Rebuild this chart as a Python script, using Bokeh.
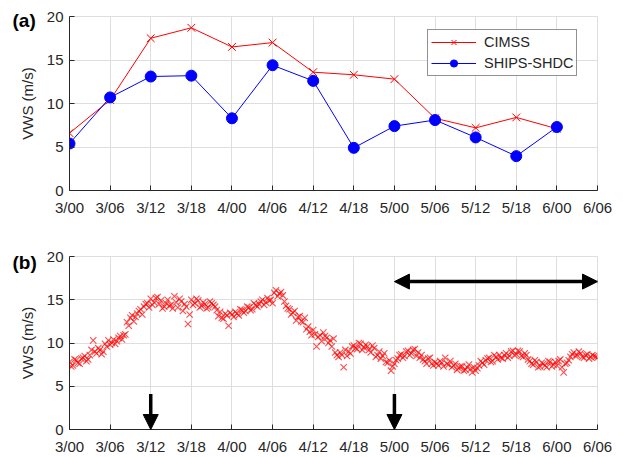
from bokeh.plotting import figure
from bokeh.models import Range1d, FixedTicker, Arrow, NormalHead, Legend, LegendItem
from bokeh.layouts import column
from bokeh.embed import file_html
from bokeh.resources import INLINE

# ---------------- data ----------------
tick_hours = [0, 6, 12, 18, 24, 30, 36, 42, 48, 54, 60, 66, 72, 78]
tick_labels = ["3/00", "3/06", "3/12", "3/18", "4/00", "4/06", "4/12",
               "4/18", "5/00", "5/06", "5/12", "5/18", "6/00", "6/06"]
y_ticks = [0, 5, 10, 15, 20]

a_hours = [0, 6, 12, 18, 24, 30, 36, 42, 48, 54, 60, 66, 72]
cimss = [6.6, 10.4, 17.5, 18.7, 16.5, 17.0, 13.6, 13.3, 12.8, 8.3, 7.2, 8.4, 7.1]
ships = [5.4, 10.7, 13.1, 13.2, 8.3, 14.4, 12.6, 4.9, 7.4, 8.1, 6.1, 3.95, 7.3]

# half-hourly CIMSS VWS (on the hour and half hour)
b_vws = [
    7.8, 7.4, 8.0, 7.6, 8.3, 7.9, 8.6, 10.3,
    8.8, 9.2, 9.0, 9.6, 9.8, 10.4, 10.2, 10.8,
    10.9, 12.4, 12.9, 12.5, 13.4, 13.9, 14.2, 14.6,
    15.1, 14.7, 15.3, 14.9, 14.2, 15.0, 14.4, 15.4,
    14.1, 14.8, 14.5, 12.2, 15.0, 14.6, 14.9, 14.3,
    14.5, 14.1, 14.6, 14.2, 13.1, 12.9, 13.4, 12.0,
    13.3, 13.6, 13.2, 13.8, 13.7, 14.1, 13.9, 14.4,
    14.5, 15.0, 14.7, 14.9, 14.6, 16.1, 15.7, 15.5,
    14.3, 13.9, 13.5, 12.6, 13.1, 12.4, 11.6, 11.3,
    11.5, 9.6, 10.9, 11.2, 10.6, 10.3, 10.5, 8.6,
    8.9, 7.2, 8.5, 8.8, 9.7, 9.3, 9.9, 9.5,
    9.6, 8.9, 9.4, 8.6, 8.2, 8.8, 7.7, 6.8,
    7.6, 8.2, 8.7, 8.5, 9.1, 8.8, 9.3, 8.9,
    8.6, 7.9, 8.2, 7.6, 7.8, 7.4, 7.7, 8.3,
    7.5, 7.2, 7.6, 7.1, 7.3, 6.9, 7.5, 6.6,
    6.8, 7.4, 7.7, 8.0, 8.3, 7.9, 8.4, 8.6,
    8.2, 8.8, 8.5, 9.1, 8.7, 9.0, 8.4, 8.6,
    7.9, 7.5, 7.8, 7.3, 7.6, 7.2, 7.8, 7.5,
    7.4, 8.1, 6.6, 7.7, 8.4, 8.9, 8.6, 8.8,
    8.3, 8.7, 8.4, 8.5, 8.3,
]
# quarter-past / quarter-to values
b_vws_q = [
    7.3, 8.1, 7.7, 8.2, 8.5, 8.1, 9.2, 9.0,
    9.4, 8.7, 9.9, 10.3, 10.0, 9.9, 10.6, 10.4,
    11.0, 12.0, 13.2, 13.0, 13.7, 13.3, 14.5, 14.1,
    14.4, 15.2, 14.5, 14.0, 14.6, 14.3, 14.0, 14.7,
    15.1, 13.7, 14.2, 13.3, 14.4, 15.1, 14.1, 14.7,
    14.0, 14.8, 14.4, 13.8, 13.6, 12.8, 13.2, 13.5,
    13.0, 13.4, 13.9, 13.5, 14.2, 13.8, 14.6, 14.2,
    14.8, 14.4, 15.2, 15.0, 15.8, 15.4, 15.9, 14.8,
    14.0, 13.3, 13.7, 13.0, 12.5, 12.9, 11.9, 10.9,
    11.0, 10.7, 10.2, 10.8, 10.0, 9.6, 8.9, 8.4,
    8.6, 9.2, 9.0, 9.6, 9.4, 10.0, 9.2, 9.8,
    9.2, 9.7, 8.4, 9.0, 8.5, 7.8, 8.0, 7.3,
    8.0, 8.6, 8.3, 9.0, 8.6, 9.2, 8.5, 8.3,
    8.1, 7.6, 8.3, 7.4, 7.6, 7.9, 7.3, 7.6,
    7.9, 7.4, 6.9, 7.3, 6.8, 7.2, 7.0, 7.2,
    7.1, 7.9, 7.5, 8.2, 7.8, 8.6, 8.1, 8.3,
    8.6, 8.3, 9.0, 8.6, 9.1, 8.5, 8.8, 8.1,
    7.6, 8.0, 7.2, 7.7, 7.4, 7.9, 7.3, 7.8,
    7.9, 7.2, 7.6, 8.0, 8.7, 8.5, 9.0, 8.4,
    8.6, 8.2, 8.6, 8.4,
]
b_hours = [0.5 * i for i in range(len(b_vws))]
b_hours_q = [0.25 + 0.5 * i for i in range(len(b_vws_q))]

down_arrow_hours = [12, 48]
down_arrow_top = 4.1
span_start, span_end, span_level = 48, 78, 17.1

FONT = "Liberation Sans"
DARK = "#262626"
GRID = "#dedede"


def make_fig(height, top, bottom, tag, tag_standoff):
    p = figure(width=623, height=height, output_backend="svg", toolbar_location=None,
               x_range=Range1d(0, 78), y_range=Range1d(0, 20),
               min_border_left=69, min_border_right=26,
               min_border_top=top, min_border_bottom=bottom)
    p.xaxis.ticker = FixedTicker(ticks=tick_hours)
    p.yaxis.ticker = FixedTicker(ticks=y_ticks)
    p.xgrid.ticker = FixedTicker(ticks=tick_hours)
    p.ygrid.ticker = FixedTicker(ticks=y_ticks)
    p.xaxis.major_label_overrides = {h: l for h, l in zip(tick_hours, tick_labels)}
    for ax in (p.xaxis, p.yaxis):
        ax.major_tick_in = 5
        ax.major_tick_out = 0
        ax.minor_tick_in = 0
        ax.minor_tick_out = 0
        ax.axis_line_color = DARK
        ax.major_tick_line_color = DARK
        ax.major_label_text_font = FONT
        ax.major_label_text_font_size = "15px"
        ax.major_label_text_color = DARK
    p.xaxis.major_label_standoff = 8
    p.yaxis.major_label_standoff = 6
    p.yaxis.axis_label = "VWS (m/s)"
    p.yaxis.axis_label_text_font = FONT
    p.yaxis.axis_label_text_font_size = "15px"
    p.yaxis.axis_label_text_font_style = "normal"
    p.yaxis.axis_label_text_color = DARK
    p.yaxis.axis_label_standoff = 8
    p.grid.grid_line_color = GRID
    p.grid.grid_line_width = 1
    p.outline_line_color = GRID
    p.background_fill_color = "white"
    p.border_fill_color = "white"
    # panel tag "(a)" / "(b)" as the figure title, pulled down beside the top tick
    p.title.text = tag
    p.title.align = "left"
    p.title.offset = -57
    p.title.standoff = tag_standoff
    p.title.vertical_align = "bottom"
    p.title.text_font = FONT
    p.title.text_font_size = "19px"
    p.title.text_font_style = "bold"
    p.title.text_color = "black"
    return p


pa = make_fig(226, 16, 36, "(a)", -28)
rl_c = pa.line(a_hours, cimss, line_color="#ff0000", line_width=1)
rs_c = pa.scatter(a_hours, cimss, marker="x", size=11, line_color="#ff0000", line_width=1)
rl_s = pa.line(a_hours, ships, line_color="#0000ff", line_width=1)
rs_s = pa.scatter(a_hours, ships, marker="circle", size=11, fill_color="#0000ff",
                  line_color="#0000ff")
lg = Legend(items=[LegendItem(label="CIMSS", renderers=[rl_c, rs_c]),
                   LegendItem(label="SHIPS-SHDC", renderers=[rl_s, rs_s])],
            location=(358, 114), label_text_font=FONT, label_text_font_size="14.5px",
            label_text_color=DARK, glyph_width=45, glyph_height=18, label_height=18,
            label_standoff=8, spacing=3, padding=3, margin=0,
            border_line_color=DARK, border_line_width=1, background_fill_alpha=1)
pa.add_layout(lg)

pb = make_fig(231, 30, 27, "(b)", -32)
pb.scatter(b_hours, b_vws, marker="x", size=9, line_color="#ff0000", line_width=1.1,
           line_alpha=0.7)
pb.scatter(b_hours_q, b_vws_q, marker="x", size=9, line_color="#ff0000", line_width=1.1,
           line_alpha=0.7)
for h in down_arrow_hours:
    pb.add_layout(Arrow(end=NormalHead(size=15, fill_color="black", line_color="black"),
                        x_start=h, y_start=down_arrow_top, x_end=h, y_end=0,
                        line_width=3.5, line_color="black"))
pb.add_layout(Arrow(start=NormalHead(size=15, fill_color="black", line_color="black"),
                    end=NormalHead(size=15, fill_color="black", line_color="black"),
                    x_start=span_start, y_start=span_level, x_end=span_end, y_end=span_level,
                    line_width=3.5, line_color="black"))

layout = column(pa, pb)
open("out.html", "w").write(file_html(layout, INLINE))
